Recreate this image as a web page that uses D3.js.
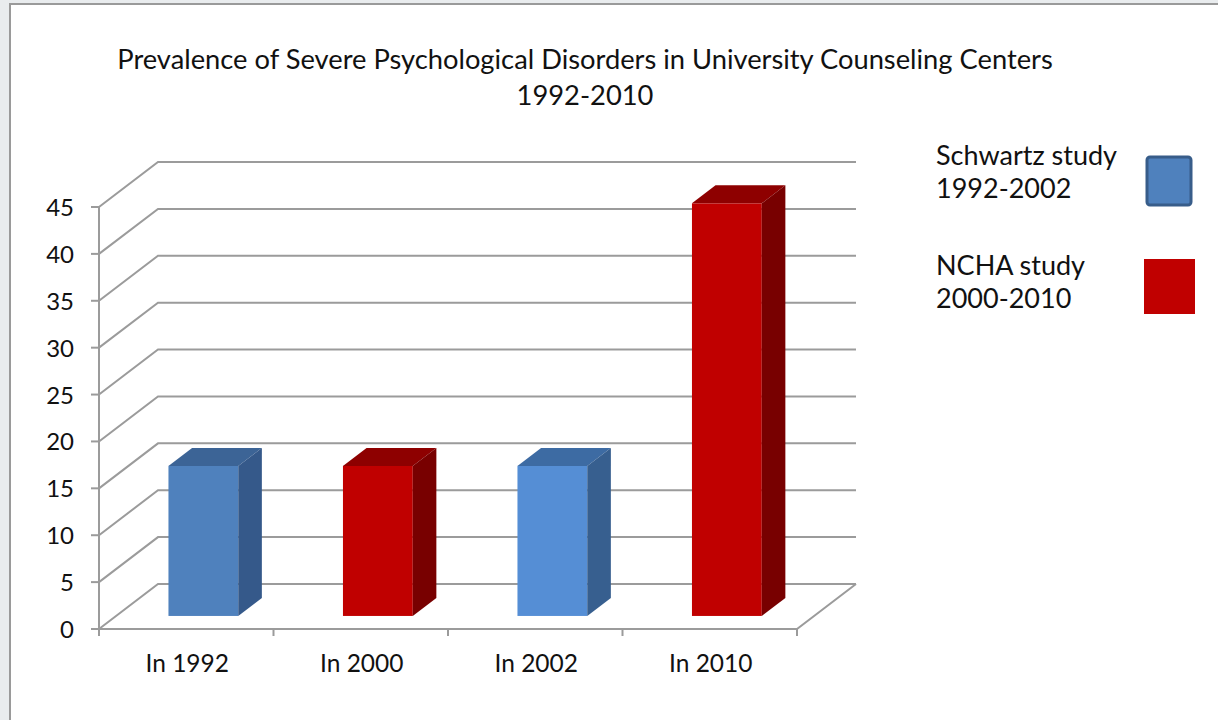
<!DOCTYPE html>
<meta charset="utf-8">
<script src="https://d3js.org/d3.v7.min.js"></script>
<style>
  body { margin: 0; background: #e9ecee; }
  text { font-family: Lato, "Noto Sans", sans-serif; fill: #111; }
</style>
<div id="chart"></div>
<script>

// data
var categories = ["In 1992", "In 2000", "In 2002", "In 2010"];
var values = [16, 16, 16, 44];
var barStudy = ["Schwartz", "NCHA", "Schwartz", "NCHA"];
var yTicks = [0, 5, 10, 15, 20, 25, 30, 35, 40, 45];
var studies = ["Schwartz", "NCHA"];
var legendLines = [["Schwartz study", "1992-2002"], ["NCHA study", "2000-2010"]];
var titleLines = ["Prevalence of Severe Psychological Disorders in University Counseling Centers", "1992-2010"];

var W = 1218, H = 720;

var svg = d3.select("#chart")
  .append("svg")
    .attr("width", W)
    .attr("height", H);

// white panel with grey frame on top/left
svg.append("rect")
  .attr("x", 10).attr("y", 4)
  .attr("width", W).attr("height", H)
  .attr("fill", "#fff")
  .attr("stroke", "#9a9a9a")
  .attr("stroke-width", 2);

// scales
var y = d3.scaleLinear().domain([0, 45]).range([629, 207]);
var x = d3.scaleBand().domain(categories).range([99, 797])
  .paddingInner(0.6).paddingOuter(0.3);

// 3d depth offset of the back wall
var DX = 59, DY = -45;
var z0 = 0.29, z1 = 0.69;   // bar depth inside the floor

var gridColor = "#9b9b9b";
var grid = svg.append("g").attr("fill", "none").attr("stroke", gridColor).attr("stroke-width", 2);

// wall lines
grid.selectAll("path.wall")
  .data(yTicks)
  .enter().append("path")
    .attr("class", "wall")
    .attr("d", function (v) {
      return "M" + 99 + "," + y(v) +
        "L" + (99 + DX) + "," + (y(v) + DY) +
        "L" + (797 + DX) + "," + (y(v) + DY);
    });

// floor front + right edges
grid.append("path")
  .attr("d", "M99," + y(0) + "L797," + y(0) + "L" + (797 + DX) + "," + (y(0) + DY));

// y axis line + ticks
grid.append("line")
  .attr("x1", 99).attr("x2", 99)
  .attr("y1", y(45)).attr("y2", y(0));
grid.selectAll("line.ytick")
  .data(yTicks)
  .enter().append("line")
    .attr("class", "ytick")
    .attr("x1", 91).attr("x2", 99)
    .attr("y1", function (v) { return y(v); })
    .attr("y2", function (v) { return y(v); });

// x ticks at category boundaries
var step = x.step();
var xBounds = categories.map(function (c) { return x(c) - x.paddingOuter() * step; });
xBounds.push(797);
grid.selectAll("line.xtick")
  .data(xBounds)
  .enter().append("line")
    .attr("class", "xtick")
    .attr("x1", function (d) { return d; }).attr("x2", function (d) { return d; })
    .attr("y1", y(0)).attr("y2", y(0) + 7);

// y labels
svg.selectAll("text.ylab")
  .data(yTicks)
  .enter().append("text")
    .attr("class", "ylab")
    .attr("x", 74)
    .attr("y", function (v) { return y(v) + 9; })
    .attr("text-anchor", "end")
    .style("font-size", "24px")
    .text(function (v) { return v; });

// x labels
svg.selectAll("text.xlab")
  .data(categories)
  .enter().append("text")
    .attr("class", "xlab")
    .attr("x", function (c) { return x(c) + x.bandwidth() / 2 + 1; })
    .attr("y", 672)
    .attr("text-anchor", "middle")
    .style("font-size", "24.5px")
    .text(function (c) { return c; });

// bar colours: front, top, side
var barColors = [
  {front: "#4f81bd", top: "#3c6496", side: "#35598a"},
  {front: "#c00000", top: "#8e0000", side: "#780000"},
  {front: "#558ed5", top: "#3d6ba3", side: "#375f8f"},
  {front: "#c00000", top: "#8e0000", side: "#780000"}
];

var bw = x.bandwidth();
var dz = z1 - z0;
var bars = svg.append("g").selectAll("g.bar")
  .data(values)
  .enter().append("g")
    .attr("class", "bar");

function fx(i) { return x(categories[i]) + z0 * DX; }
function fy(v) { return y(v) + z0 * DY; }

bars.append("rect")
  .attr("x", function (d, i) { return fx(i); })
  .attr("y", function (d) { return fy(d); })
  .attr("width", bw)
  .attr("height", function (d) { return fy(0) - fy(d); })
  .attr("fill", function (d, i) { return barColors[i].front; });

bars.append("path")
  .attr("d", function (d, i) {
    var x0 = fx(i), yt = fy(d);
    return "M" + x0 + "," + yt + "L" + (x0 + bw) + "," + yt +
      "L" + (x0 + bw + dz * DX) + "," + (yt + dz * DY) +
      "L" + (x0 + dz * DX) + "," + (yt + dz * DY) + "Z";
  })
  .attr("fill", function (d, i) { return barColors[i].top; });

bars.append("path")
  .attr("d", function (d, i) {
    var x1 = fx(i) + bw, yt = fy(d), yb = fy(0);
    return "M" + x1 + "," + yt + "L" + (x1 + dz * DX) + "," + (yt + dz * DY) +
      "L" + (x1 + dz * DX) + "," + (yb + dz * DY) + "L" + x1 + "," + yb + "Z";
  })
  .attr("fill", function (d, i) { return barColors[i].side; });

// title
svg.selectAll("text.title")
  .data(titleLines)
  .enter().append("text")
    .attr("class", "title")
    .attr("x", 585)
    .attr("y", function (d, i) { return 69 + i * 36; })
    .attr("text-anchor", "middle")
    .style("font-size", "27.3px")
    .text(function (d) { return d; });

// legend
var legend = svg.append("g").selectAll("g")
  .data(studies)
  .enter().append("g")
    .attr("transform", function (d, i) { return "translate(936," + (165 + i * 110) + ")"; });

legend.selectAll("text")
  .data(function (d, i) { return legendLines[i]; })
  .enter().append("text")
    .attr("y", function (d, j) { return j * 33; })
    .style("font-size", "27px")
    .text(function (d) { return d; });

legend.append("rect")
  .attr("x", function (d, i) { return i == 0 ? 211 : 208; })
  .attr("y", function (d, i) { return i == 0 ? -8 : -16; })
  .attr("width", function (d, i) { return i == 0 ? 44 : 51; })
  .attr("height", function (d, i) { return i == 0 ? 48 : 55; })
  .attr("rx", function (d, i) { return i == 0 ? 3 : 0; })
  .attr("fill", function (d) { return d == "Schwartz" ? "#4f81bd" : "#c00000"; })
  .attr("stroke", function (d) { return d == "Schwartz" ? "#385d8a" : "none"; })
  .attr("stroke-width", 3);

</script>
